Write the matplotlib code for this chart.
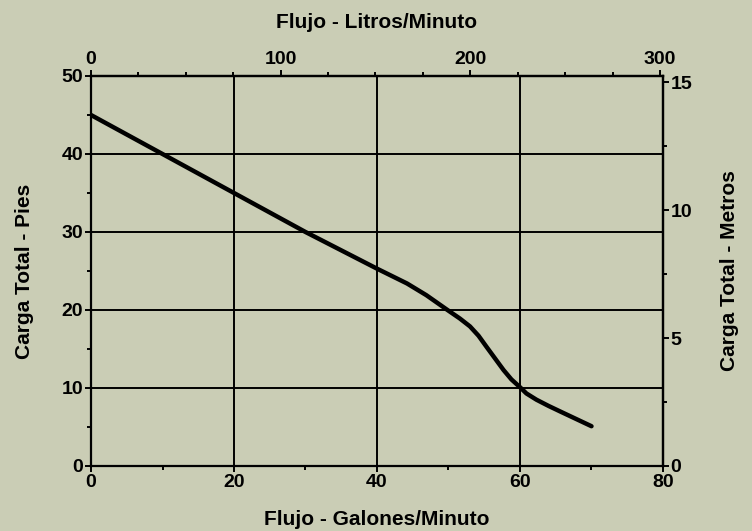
import numpy as np
import matplotlib.pyplot as plt
from matplotlib.ticker import MultipleLocator

plt.rcParams['font.family'] = ['Liberation Sans', 'DejaVu Sans']
plt.rcParams['font.weight'] = 'bold'

# pump curve (gallons/minute vs feet of head)
flow_gpm = [0, 10, 20, 30, 40, 44.2, 46.9, 49.7, 51.6, 53, 54.2, 55.3, 56.5,
            57.7, 58.8, 60, 60.9, 62.3, 64, 65.6, 70]
head_ft = [45, 40, 35, 30, 25.3, 23.4, 21.9, 20.1, 18.9, 17.9, 16.7, 15.3, 13.8,
           12.3, 11.1, 10.1, 9.3, 8.5, 7.7, 7.0, 5.1]

L_PER_GAL = 3.77
FT_PER_M = 3.281
BG = '#cacdb5'
TICK_FS = 14
LABEL_FS = 15

fig = plt.figure(figsize=(7.52, 5.31), dpi=100, facecolor=BG)
ax = fig.add_axes([91 / 752, 1 - 466 / 531, 572 / 752, 390 / 531])
ax.set_facecolor(BG)

ax.plot(flow_gpm, head_ft, color='black', linewidth=3.2,
        solid_capstyle='round', solid_joinstyle='round')

ax.set_xlim(0, 80)
ax.set_ylim(0, 50)
ax.xaxis.set_major_locator(MultipleLocator(20))
ax.xaxis.set_minor_locator(MultipleLocator(10))
ax.yaxis.set_major_locator(MultipleLocator(10))
ax.yaxis.set_minor_locator(MultipleLocator(5))
ax.grid(True, which='major', color='black', linewidth=1.4)

for s in ax.spines.values():
    s.set_linewidth(1.6)

ax.tick_params(which='major', length=4.5, width=1.4, labelsize=TICK_FS, pad=1)
ax.tick_params(which='minor', length=3, width=1.4)

# secondary scales: litres/minute on top, metres on the right
top = ax.secondary_xaxis('top', functions=(lambda g: g * L_PER_GAL, lambda l: l / L_PER_GAL))
top.set_xticks([0, 100, 200, 300])
top.set_xticks([25, 50, 75, 125, 150, 175, 225, 250, 275], minor=True)
top.tick_params(which='major', length=4.5, width=1.4, labelsize=TICK_FS, pad=1)
top.tick_params(which='minor', length=3, width=1.4)
top.spines['top'].set_linewidth(1.6)

right = ax.secondary_yaxis('right', functions=(lambda f: f / FT_PER_M, lambda m: m * FT_PER_M))
right.set_yticks([0, 5, 10, 15])
right.set_yticks([2.5, 7.5, 12.5], minor=True)
right.tick_params(which='major', length=4.5, width=1.4, labelsize=TICK_FS, pad=1)
right.tick_params(which='minor', length=3, width=1.4)
right.spines['right'].set_linewidth(1.6)

for lab in ax.get_xticklabels() + ax.get_yticklabels() + top.get_xticklabels() + right.get_yticklabels():
    lab.set_fontweight('bold')

ax.set_xlabel('Flujo - Galones/Minuto', fontsize=LABEL_FS, fontweight='bold', labelpad=14)
ax.set_ylabel('Carga Total - Pies', fontsize=LABEL_FS, fontweight='bold', labelpad=20)
top.set_xlabel('Flujo - Litros/Minuto', fontsize=LABEL_FS, fontweight='bold', labelpad=17)
right.set_ylabel('Carga Total - Metros', fontsize=LABEL_FS, fontweight='bold', labelpad=20)

fig.savefig('out.png', dpi=100, facecolor=BG)
